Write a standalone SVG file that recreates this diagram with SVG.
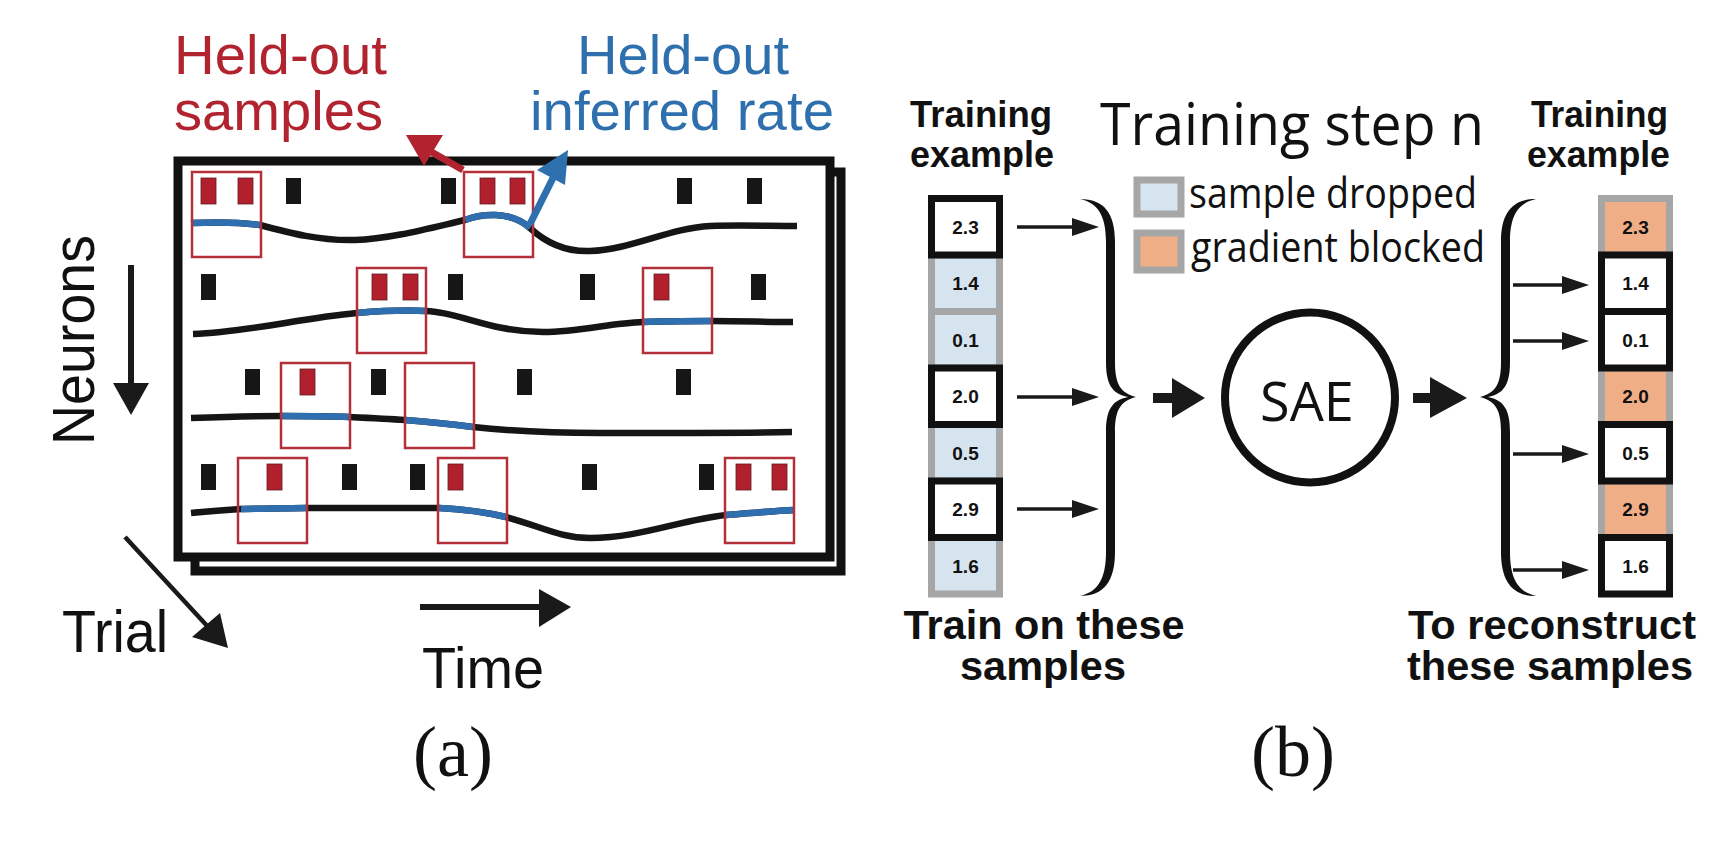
<svg xmlns="http://www.w3.org/2000/svg" width="1727" height="858" viewBox="0 0 1727 858">
<style>
.sans{font-family:"Liberation Sans",Arial,sans-serif}
.humanist{font-family:"Open Sans","Noto Sans",sans-serif}
.bold{font-family:"Liberation Sans",Arial,sans-serif;font-weight:bold;fill:#111}
.serif{font-family:"Liberation Serif","Times New Roman",serif;fill:#111}
.frame{fill:#fff;stroke:#111;stroke-width:9}
.curve{fill:none;stroke:#151515;stroke-width:6.5}
.rate{fill:none;stroke:#2f6fb0;stroke-width:6.5}
.hbox{fill:none;stroke:#b3303a;stroke-width:2.5}
.spk{fill:#161616}
.rspk{fill:#b2202e;stroke:#5e1a1e;stroke-width:0.8}
.dropped{fill:#d6e4f0;stroke:#a6a6a6;stroke-width:7}
.blocked{fill:#f0ae86;stroke:#a6a6a6;stroke-width:7}
.kept{fill:#fff;stroke:#111;stroke-width:7}
.num{font-family:"Liberation Sans",Arial,sans-serif;font-weight:bold;font-size:19px;fill:#111;text-anchor:middle}
.thin{stroke:#1a1a1a;stroke-width:3.5}
.head{fill:#1a1a1a}
</style>
<rect width="1727" height="858" fill="#fff"/>

<!-- Panel (a) -->
<g id="raster">
  <rect class="frame" x="195" y="172" width="646" height="399"/>
  <rect class="frame" x="178" y="161" width="652" height="396"/>
</g>

<g id="row1">
  <path class="curve" d="M191,223 C215,222 240,222 260,225 C290,233 320,241 355,240 C390,239 430,228 465,220 C480,214 510,210 530,228 C545,242 565,252 590,251 C630,250 670,228 710,226 C740,225 770,226 797,226"/>
  <path class="rate" d="M191,223 C215,222 240,222 260,225"/>
  <path class="rate" d="M465,220 C480,214 510,210 530,228"/>
  <rect class="hbox" x="192" y="172" width="69" height="85"/>
  <rect class="hbox" x="464" y="172" width="69" height="85"/>
  <rect class="rspk" x="201" y="178" width="15" height="26"/>
  <rect class="rspk" x="238" y="178" width="15" height="26"/>
  <rect class="spk" x="286" y="178" width="15" height="26"/>
  <rect class="spk" x="441" y="178" width="15" height="26"/>
  <rect class="rspk" x="480" y="178" width="15" height="26"/>
  <rect class="rspk" x="510" y="178" width="15" height="26"/>
  <rect class="spk" x="677" y="178" width="15" height="26"/>
  <rect class="spk" x="747" y="178" width="15" height="26"/>
</g>

<g id="row2">
  <path class="curve" d="M193,334 C250,332 300,318 357,313 C380,311 405,310 426,311 C460,312 490,332 543,332 C580,332 610,323 643,322 C665,321 690,321 711,321 C740,321 770,322 793,322"/>
  <path class="rate" d="M357,313 C380,311 405,310 426,311"/>
  <path class="rate" d="M643,322 C665,321 690,321 711,321"/>
  <rect class="hbox" x="357" y="268" width="69" height="85"/>
  <rect class="hbox" x="643" y="268" width="69" height="85"/>
  <rect class="spk" x="201" y="274" width="15" height="26"/>
  <rect class="rspk" x="372" y="274" width="15" height="26"/>
  <rect class="rspk" x="403" y="274" width="15" height="26"/>
  <rect class="spk" x="448" y="274" width="15" height="26"/>
  <rect class="spk" x="580" y="274" width="15" height="26"/>
  <rect class="rspk" x="654" y="274" width="15" height="26"/>
  <rect class="spk" x="751" y="274" width="15" height="26"/>
</g>

<g id="row3">
  <path class="curve" d="M191,418 C220,417 260,416 282,416 C305,416 330,416 349,417 C370,418 390,419 405,420 C430,422 450,424 473,427 C520,432 560,433 600,433 C680,433 740,433 792,432"/>
  <path class="rate" d="M282,416 C305,416 330,416 349,417"/>
  <path class="rate" d="M405,420 C430,422 450,424 473,427"/>
  <rect class="hbox" x="281" y="363" width="69" height="85"/>
  <rect class="hbox" x="405" y="363" width="69" height="85"/>
  <rect class="spk" x="245" y="369" width="15" height="26"/>
  <rect class="rspk" x="300" y="369" width="15" height="26"/>
  <rect class="spk" x="371" y="369" width="15" height="26"/>
  <rect class="spk" x="517" y="369" width="15" height="26"/>
  <rect class="spk" x="676" y="369" width="15" height="26"/>
</g>

<g id="row4">
  <path class="curve" d="M191,513 C210,511 225,510 241,509 C260,509 285,508 306,508 C350,508 400,508 439,508 C460,509 485,512 506,517 C540,526 560,538 590,538 C640,538 680,520 726,515 C750,513 775,511 794,510"/>
  <path class="rate" d="M241,509 C260,509 285,508 306,508"/>
  <path class="rate" d="M439,508 C460,509 485,512 506,517"/>
  <path class="rate" d="M726,515 C750,513 775,511 794,510"/>
  <rect class="hbox" x="238" y="458" width="69" height="85"/>
  <rect class="hbox" x="438" y="458" width="69" height="85"/>
  <rect class="hbox" x="725" y="458" width="69" height="85"/>
  <rect class="spk" x="201" y="464" width="15" height="26"/>
  <rect class="rspk" x="267" y="464" width="15" height="26"/>
  <rect class="spk" x="342" y="464" width="15" height="26"/>
  <rect class="spk" x="410" y="464" width="15" height="26"/>
  <rect class="rspk" x="448" y="464" width="15" height="26"/>
  <rect class="spk" x="582" y="464" width="15" height="26"/>
  <rect class="spk" x="699" y="464" width="15" height="26"/>
  <rect class="rspk" x="736" y="464" width="15" height="26"/>
  <rect class="rspk" x="772" y="464" width="15" height="26"/>
</g>

<g id="label-samples">
  <text class="sans" font-size="55" fill="#b0232f"><tspan x="174" y="74" textLength="213" lengthAdjust="spacingAndGlyphs">Held-out</tspan><tspan x="174" y="130" textLength="209" lengthAdjust="spacingAndGlyphs">samples</tspan></text>
</g>
<g id="label-rate">
  <text class="sans" font-size="55" fill="#2e6fae"><tspan x="577" y="74" textLength="212" lengthAdjust="spacingAndGlyphs">Held-out</tspan><tspan x="530" y="130" textLength="304" lengthAdjust="spacingAndGlyphs">inferred rate</tspan></text>
</g>

<g id="axis-labels">
  <text class="sans" transform="translate(94,340) rotate(-90)" text-anchor="middle" font-size="59" fill="#111" textLength="210" lengthAdjust="spacingAndGlyphs">Neurons</text>
  <text class="sans" x="62" y="652" font-size="59" fill="#111" textLength="106" lengthAdjust="spacingAndGlyphs">Trial</text>
  <text class="sans" x="422" y="688" font-size="58" fill="#111" textLength="122" lengthAdjust="spacingAndGlyphs">Time</text>
  <text class="serif" x="453" y="776" font-size="72" text-anchor="middle">(a)</text>
</g>

<g id="connectors-a">
  <line x1="463" y1="170" x2="428" y2="150" stroke="#b0232f" stroke-width="7"/>
  <polygon points="406,135 443,135 424,166" fill="#b0232f"/>
  <line x1="530" y1="224" x2="553" y2="178" stroke="#2e6fae" stroke-width="7"/>
  <polygon points="568,150 537,170 565,185" fill="#2e6fae"/>
  <line x1="131" y1="265" x2="131" y2="386" stroke="#1a1a1a" stroke-width="6"/>
  <polygon points="113,383 149,383 131,415" fill="#1a1a1a"/>
  <line x1="125" y1="537" x2="210" y2="629" stroke="#1a1a1a" stroke-width="4.5"/>
  <polygon points="228,648 192,637 220,613" fill="#1a1a1a"/>
  <line x1="420" y1="607" x2="541" y2="607" stroke="#1a1a1a" stroke-width="6"/>
  <polygon points="539,589 571,607 539,627" fill="#1a1a1a"/>
</g>

<!-- Panel (b) -->
<g id="header-left">
  <text class="bold" font-size="36"><tspan x="910" y="127" textLength="142" lengthAdjust="spacingAndGlyphs">Training</tspan><tspan x="910" y="167" textLength="144" lengthAdjust="spacingAndGlyphs">example</tspan></text>
</g>
<g id="header-right">
  <text class="bold" font-size="36"><tspan x="1531" y="127" textLength="137" lengthAdjust="spacingAndGlyphs">Training</tspan><tspan x="1527" y="167" textLength="143" lengthAdjust="spacingAndGlyphs">example</tspan></text>
</g>
<g id="title">
  <text class="humanist" x="1100" y="145" font-size="58" fill="#111" textLength="384" lengthAdjust="spacingAndGlyphs">Training step n</text>
</g>
<g id="legend">
  <rect class="dropped" x="1137" y="180" width="44" height="34" stroke-width="8"/>
  <text class="humanist" x="1189" y="208" font-size="42" fill="#111" textLength="288" lengthAdjust="spacingAndGlyphs">sample dropped</text>
  <rect class="blocked" x="1137" y="233" width="44" height="37" stroke-width="8"/>
  <text class="humanist" x="1191" y="262" font-size="42" fill="#111" textLength="294" lengthAdjust="spacingAndGlyphs">gradient blocked</text>
</g>

<g id="input-column">
  <rect class="dropped" x="931.5" y="255" width="68" height="56.5"/>
  <rect class="dropped" x="931.5" y="311.5" width="68" height="56.5"/>
  <rect class="dropped" x="931.5" y="424.5" width="68" height="56.5"/>
  <rect class="dropped" x="931.5" y="537.5" width="68" height="56.5"/>
  <rect class="kept" x="931.5" y="198.5" width="68" height="56.5"/>
  <rect class="kept" x="931.5" y="368" width="68" height="56.5"/>
  <rect class="kept" x="931.5" y="481" width="68" height="56.5"/>
  <text class="num" x="965.5" y="233.5">2.3</text>
  <text class="num" x="965.5" y="290">1.4</text>
  <text class="num" x="965.5" y="346.5">0.1</text>
  <text class="num" x="965.5" y="403">2.0</text>
  <text class="num" x="965.5" y="459.5">0.5</text>
  <text class="num" x="965.5" y="516">2.9</text>
  <text class="num" x="965.5" y="572.5">1.6</text>
</g>

<g id="output-column">
  <rect class="blocked" x="1601.5" y="198.5" width="68" height="56.5"/>
  <rect class="blocked" x="1601.5" y="368" width="68" height="56.5"/>
  <rect class="blocked" x="1601.5" y="481" width="68" height="56.5"/>
  <rect class="kept" x="1601.5" y="255" width="68" height="56.5"/>
  <rect class="kept" x="1601.5" y="311.5" width="68" height="56.5"/>
  <rect class="kept" x="1601.5" y="424.5" width="68" height="56.5"/>
  <rect class="kept" x="1601.5" y="537.5" width="68" height="56.5"/>
  <text class="num" x="1635.5" y="233.5">2.3</text>
  <text class="num" x="1635.5" y="290">1.4</text>
  <text class="num" x="1635.5" y="346.5">0.1</text>
  <text class="num" x="1635.5" y="403">2.0</text>
  <text class="num" x="1635.5" y="459.5">0.5</text>
  <text class="num" x="1635.5" y="516">2.9</text>
  <text class="num" x="1635.5" y="572.5">1.6</text>
</g>

<g id="sae">
  <circle cx="1310" cy="397.5" r="85" fill="#fff" stroke="#111" stroke-width="8"/>
  <text class="humanist" x="1307" y="421" font-size="54" fill="#111" text-anchor="middle">SAE</text>
</g>

<g id="connectors-b">
  <path id="brace-left" fill="#111" d="M1080,199 C1104,199 1115,213 1115,242 L1115,362 C1115,385 1121,393 1136,397 C1121,401 1115,409 1115,432 L1115,552 C1115,581 1104,596 1080,596 C1097,592 1106,580 1106,552 L1106,432 C1106,410 1112,400 1128,397 C1112,394 1106,384 1106,362 L1106,242 C1106,214 1097,203 1080,199 Z"/>
  <path id="brace-right" fill="#111" transform="translate(2616,0) scale(-1,1)" d="M1080,199 C1104,199 1115,213 1115,242 L1115,362 C1115,385 1121,393 1136,397 C1121,401 1115,409 1115,432 L1115,552 C1115,581 1104,596 1080,596 C1097,592 1106,580 1106,552 L1106,432 C1106,410 1112,400 1128,397 C1112,394 1106,384 1106,362 L1106,242 C1106,214 1097,203 1080,199 Z"/>
  <line class="thin" x1="1017" y1="227" x2="1076" y2="227"/>
  <polygon class="head" points="1072,218 1099,227 1072,236"/>
  <line class="thin" x1="1017" y1="397" x2="1076" y2="397"/>
  <polygon class="head" points="1072,388 1099,397 1072,406"/>
  <line class="thin" x1="1017" y1="509" x2="1076" y2="509"/>
  <polygon class="head" points="1072,500 1099,509 1072,518"/>
  <rect class="head" x="1153" y="393" width="21" height="10"/>
  <polygon class="head" points="1172,378 1205,398 1172,418"/>
  <rect class="head" x="1413" y="393" width="19" height="10"/>
  <polygon class="head" points="1430,377 1467,398 1430,418"/>
  <line class="thin" x1="1513" y1="285" x2="1566" y2="285"/>
  <polygon class="head" points="1562,276 1589,285 1562,294"/>
  <line class="thin" x1="1513" y1="341" x2="1566" y2="341"/>
  <polygon class="head" points="1562,332 1589,341 1562,350"/>
  <line class="thin" x1="1513" y1="454" x2="1566" y2="454"/>
  <polygon class="head" points="1562,445 1589,454 1562,463"/>
  <line class="thin" x1="1513" y1="570" x2="1566" y2="570"/>
  <polygon class="head" points="1562,561 1589,570 1562,579"/>
</g>

<g id="footer-b">
  <text class="bold" font-size="40" text-anchor="middle"><tspan x="1044" y="639" textLength="281" lengthAdjust="spacingAndGlyphs">Train on these</tspan><tspan x="1043" y="680" textLength="166" lengthAdjust="spacingAndGlyphs">samples</tspan></text>
  <text class="bold" font-size="40" text-anchor="middle"><tspan x="1552" y="639" textLength="288" lengthAdjust="spacingAndGlyphs">To reconstruct</tspan><tspan x="1550" y="680" textLength="286" lengthAdjust="spacingAndGlyphs">these samples</tspan></text>
  <text class="serif" x="1293" y="776" font-size="72" text-anchor="middle">(b)</text>
</g>
</svg>
